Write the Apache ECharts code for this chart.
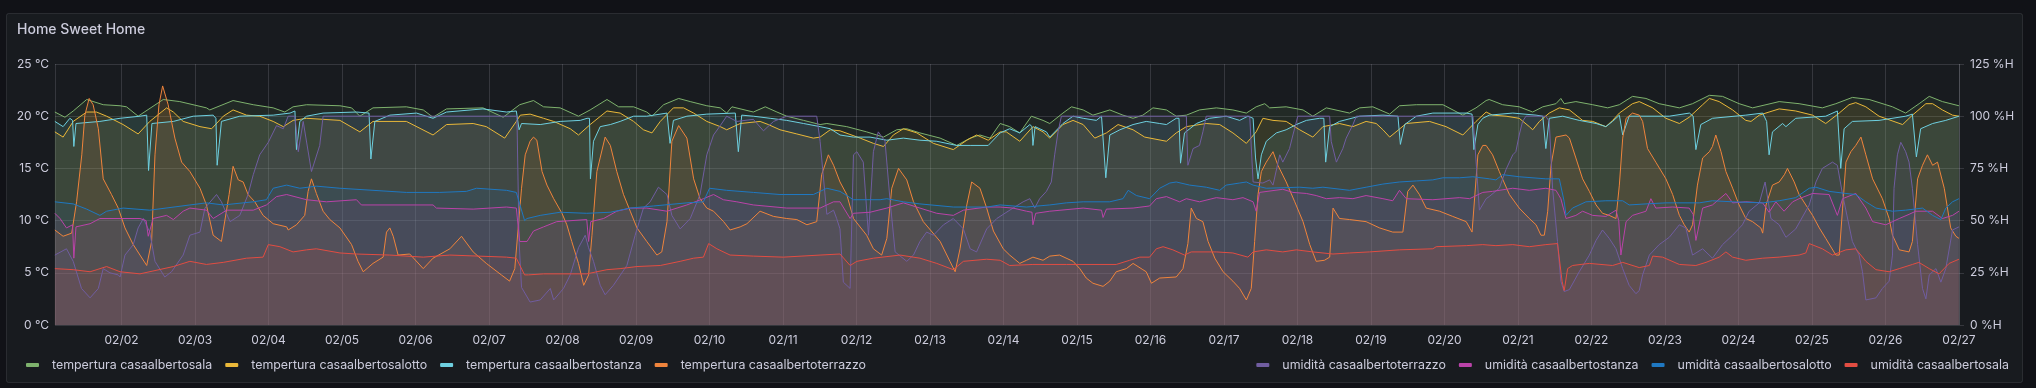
<!DOCTYPE html>
<html><head><meta charset="utf-8">
<script src="https://cdn.jsdelivr.net/npm/echarts@6/dist/echarts.min.js"></script>
<style>html,body{margin:0;padding:0;background:#111217;}#c{width:2036px;height:388px;}</style>
</head><body><div id="c"></div>
<script>
// time values are hours since 02/01 00:00
const title = 'Home Sweet Home';
const tempNames = ['tempertura casaalbertosala','tempertura casaalbertosalotto','tempertura casaalbertostanza','tempertura casaalbertoterrazzo'];
const humNames = ['umidità casaalbertoterrazzo','umidità casaalbertostanza','umidità casaalbertosalotto','umidità casaalbertosala'];
const tempTicks = [0,5,10,15,20,25];
const humTicks = [0,25,50,75,100,125];
const startHour = 2.25, endHour = 624;

const tSala = [[2.2,20.4],[5.5,19.9],[8.2,20.5],[12.6,21.6],[18.0,21.1],[23.5,21.0],[25.6,20.9],[29.4,20.0],[37.6,21.6],[43.0,21.4],[51.7,20.8],[52.8,20.6],[60.4,21.5],[67.0,21.1],[73.5,20.8],[77.3,20.4],[80.0,20.9],[84.4,21.1],[95.3,21.0],[99.1,20.8],[101.8,20.0],[106.1,20.8],[117.0,20.9],[122.5,20.6],[125.7,19.9],[130.1,20.7],[142.0,20.8],[148.6,19.9],[154.0,21.1],[158.5,21.5],[161.8,20.9],[167.2,20.8],[173.2,20.0],[177.0,20.6],[182.5,21.6],[186.3,20.9],[191.2,20.9],[195.5,20.4],[197.2,20.0],[201.0,21.1],[205.9,21.7],[209.7,21.4],[215.1,21.0],[219.5,20.8],[221.6,20.3],[223.3,20.9],[230.3,20.4],[234.2,20.9],[238.0,20.4],[241.2,20.0],[246.7,19.6],[252.1,19.2],[254.3,19.3],[260.8,19.0],[267.3,18.5],[272.8,18.0],[277.1,18.7],[280.4,18.8],[284.7,18.4],[291.3,17.9],[296.7,17.2],[301.1,17.9],[304.3,18.2],[307.6,17.9],[310.9,19.3],[314.0,19.0],[317.3,18.4],[321.1,20.0],[324.9,19.6],[327.1,19.3],[331.4,20.3],[334.2,20.9],[338.0,20.6],[341.2,20.1],[346.7,20.6],[351.0,20.1],[354.3,19.8],[357.5,20.1],[360.8,20.8],[365.2,20.6],[368.4,20.0],[371.7,20.1],[376.0,20.6],[381.5,20.8],[386.9,20.6],[391.3,20.3],[394.5,20.9],[397.3,21.2],[398.9,20.8],[404.3,20.9],[409.8,20.6],[413.0,20.0],[417.4,20.8],[425.0,20.3],[428.3,20.8],[432.6,20.9],[438.1,20.2],[441.3,21.0],[446.8,21.1],[455.5,21.1],[462.0,20.1],[466.3,20.8],[469.6,21.5],[470.6,21.6],[475.0,21.1],[480.4,20.9],[484.8,20.4],[488.1,20.9],[492.4,21.2],[494.0,21.7],[495.1,21.2],[498.9,21.4],[504.4,21.1],[509.3,20.8],[513.1,21.1],[517.4,21.9],[521.8,21.7],[526.1,21.2],[532.7,20.8],[537.0,21.2],[542.5,22.0],[546.8,21.9],[552.2,21.2],[556.6,20.8],[561.0,21.1],[565.3,21.4],[571.8,21.2],[579.4,20.8],[583.8,21.2],[589.2,21.8],[594.7,21.6],[602.3,20.9],[606.6,20.3],[611.0,21.2],[614.3,21.9],[618.6,21.4],[624,21.0]];

const tSalotto = [[2.2,18.5],[4.9,18.0],[8.2,19.5],[12.6,20.4],[15.8,20.4],[19.1,20.0],[24.5,19.2],[29.4,18.3],[33.2,19.5],[38.7,20.8],[40.9,20.4],[44.1,19.5],[49.6,19.0],[53.4,18.8],[57.2,20.0],[60.4,20.6],[64.8,20.1],[69.1,20.0],[73.5,19.5],[76.8,19.0],[80.0,19.6],[84.4,19.8],[95.3,19.6],[101.8,18.5],[106.1,19.5],[117.0,19.5],[125.7,18.2],[130.1,19.2],[138.8,19.3],[143.1,19.0],[149.1,17.9],[152.9,19.5],[154.2,20.1],[157.4,20.2],[161.8,19.8],[165.1,19.5],[170.5,18.8],[173.2,18.2],[177.0,19.2],[182.5,20.5],[186.8,20.3],[191.2,19.5],[194.4,18.7],[197.2,18.4],[199.9,19.5],[204.2,20.8],[207.5,20.8],[210.8,20.3],[215.1,19.5],[219.5,19.0],[221.6,18.7],[226.0,19.3],[232.5,19.5],[235.2,19.2],[239.0,18.7],[244.5,18.3],[249.9,17.9],[252.1,18.0],[255.4,18.7],[258.6,18.6],[265.2,17.9],[269.5,17.4],[272.8,17.1],[276.0,18.2],[279.3,18.8],[283.7,18.4],[289.1,17.4],[295.6,16.8],[300.0,17.7],[303.2,18.2],[307.0,17.7],[310.9,18.5],[312.9,18.5],[317.3,17.6],[321.6,19.0],[324.9,18.5],[327.1,17.9],[331.4,19.2],[334.7,19.6],[338.0,19.2],[341.8,17.9],[345.6,18.4],[349.4,19.2],[354.3,18.7],[358.1,18.0],[365.2,17.6],[368.4,18.4],[371.7,19.0],[378.2,19.3],[382.6,19.2],[386.9,18.4],[391.3,17.4],[394.5,18.5],[396.7,19.8],[400.0,19.6],[404.3,19.5],[408.7,18.7],[413.0,18.0],[416.3,19.0],[421.7,19.3],[426.1,19.0],[430.4,19.5],[433.7,19.3],[435.9,18.7],[438.1,18.0],[443.5,19.3],[451.1,19.5],[456.5,19.0],[462.0,18.2],[466.3,19.5],[469.6,20.4],[471.7,20.1],[476.1,20.0],[480.4,19.8],[483.7,19.0],[484.8,18.7],[487.0,19.5],[490.2,20.3],[493.5,20.8],[496.8,20.6],[501.1,19.6],[504.4,19.5],[508.7,19.0],[510.9,19.6],[513.1,20.3],[517.4,21.2],[519.6,21.4],[524.0,20.8],[528.3,19.8],[532.7,19.3],[535.9,19.9],[540.3,21.1],[542.5,21.7],[545.7,21.4],[550.1,20.6],[554.4,19.6],[556.1,19.5],[558.8,20.1],[562.0,20.4],[565.3,20.7],[570.7,20.5],[576.2,20.1],[580.5,19.3],[584.9,20.3],[588.1,21.1],[590.3,21.3],[593.6,20.9],[597.9,20.0],[605.6,19.2],[608.8,20.1],[613.2,21.2],[615.4,21.2],[618.6,20.6],[621.9,20.1],[624,20.0]];

const tStanza = [[2.2,19.5],[4.9,19.0],[7.1,19.8],[8.0,19.6],[8.4,17.1],[9.1,19.3],[16.9,19.5],[23.5,19.8],[30.0,20.0],[32.2,20.1],[32.8,14.8],[33.9,19.3],[40.9,19.5],[47.4,20.0],[53.9,20.1],[54.8,19.8],[55.2,15.3],[56.6,19.5],[62.6,20.0],[73.5,20.1],[79.0,20.3],[80.6,20.5],[81.1,16.8],[82.2,19.5],[84.4,20.0],[89.8,20.3],[100.7,20.4],[104.8,20.3],[105.4,15.9],[106.7,19.5],[111.6,20.1],[120.3,20.3],[125.7,19.8],[130.1,20.4],[142.0,20.7],[149.7,20.4],[152.9,20.5],[153.8,18.7],[154.6,19.3],[160.7,19.2],[167.2,19.5],[173.8,19.6],[176.0,19.8],[176.8,19.8],[177.1,14.0],[178.1,17.6],[180.3,19.0],[183.6,19.2],[186.8,19.5],[191.2,20.0],[195.5,20.0],[202.1,20.3],[203.1,17.4],[204.2,19.6],[208.6,20.0],[215.1,20.2],[224.4,20.3],[225.4,16.6],[226.5,20.1],[230.3,20.0],[235.8,19.8],[241.2,19.6],[246.7,19.3],[252.1,19.0],[255.4,18.8],[258.6,18.2],[263.0,18.0],[268.4,18.0],[273.9,17.7],[279.3,17.9],[284.7,17.7],[290.2,17.6],[296.7,17.2],[301.1,17.2],[307.0,17.2],[310.9,18.4],[314.0,18.8],[317.3,18.4],[320.6,19.2],[321.3,19.0],[321.6,17.2],[322.3,19.0],[326.0,18.5],[327.1,18.0],[331.4,19.3],[334.7,20.0],[338.0,19.8],[342.3,19.6],[344.0,20.0],[345.4,14.1],[346.7,18.2],[350.0,18.7],[354.3,19.2],[358.6,19.5],[363.0,19.3],[365.2,19.2],[368.4,19.8],[369.3,19.8],[369.8,15.5],[371.1,18.4],[375.0,19.3],[379.3,19.8],[384.7,20.0],[389.1,19.6],[391.8,20.0],[393.5,19.8],[394.3,16.0],[395.1,14.0],[396.2,16.3],[397.8,17.6],[401.1,18.4],[404.3,18.7],[407.6,19.2],[410.9,19.6],[415.2,19.8],[416.6,19.8],[417.2,15.6],[418.5,19.0],[421.7,19.5],[428.3,20.0],[435.9,20.1],[440.8,20.0],[441.6,17.3],[443.0,19.2],[446.8,20.0],[452.2,20.3],[463.1,20.3],[465.0,20.2],[465.6,16.8],[466.9,19.2],[468.5,19.8],[470.6,20.1],[478.3,20.3],[485.9,20.1],[488.1,20.0],[489.1,16.9],[490.2,19.8],[494.6,20.0],[500.0,19.6],[505.5,19.3],[508.7,19.0],[510.9,19.5],[513.1,20.1],[514.2,18.2],[516.3,20.0],[529.4,20.0],[536.0,20.3],[537.2,20.0],[538.1,16.8],[539.7,19.2],[543.5,19.8],[554.4,20.1],[559.9,20.3],[561.2,19.5],[562.0,16.3],[563.1,18.5],[566.4,19.3],[567.5,19.0],[570.7,19.8],[580.5,20.0],[584.3,20.5],[585.4,15.0],[586.5,18.8],[589.2,19.5],[597.9,19.6],[606.6,20.0],[608.8,20.2],[610.1,16.1],[611.5,18.8],[615.4,19.3],[619.7,19.6],[624,20.0]];

const tTerrazzo = [[2.2,9.1],[4.9,8.5],[7.7,8.8],[9.3,11.8],[11.0,16.3],[12.0,20.1],[13.4,21.7],[14.7,21.1],[16.4,18.8],[18.0,14.0],[20.7,12.5],[22.9,11.2],[25.1,9.3],[27.8,7.7],[30.0,6.7],[32.2,5.7],[33.8,8.0],[34.9,16.3],[36.2,21.1],[37.4,22.9],[39.2,21.1],[41.4,17.9],[43.6,15.6],[46.3,14.7],[49.6,13.1],[51.7,11.5],[53.9,8.6],[56.6,8.0],[59.1,12.5],[60.4,15.2],[62.1,13.9],[63.7,13.7],[65.3,12.5],[67.5,11.8],[70.2,10.5],[73.5,9.7],[77.9,9.4],[78.4,9.1],[81.1,9.6],[83.8,10.5],[84.9,12.8],[86.0,14.0],[87.6,12.6],[89.8,10.9],[92.0,10.1],[95.3,9.3],[99.1,7.7],[101.2,6.1],[102.9,5.1],[106.1,5.9],[109.4,6.5],[110.5,8.9],[111.6,9.3],[112.7,8.5],[114.3,6.7],[118.1,6.8],[122.5,5.4],[125.7,6.4],[131.2,7.3],[135.0,8.5],[138.8,7.0],[143.1,5.9],[148.0,4.8],[150.7,4.2],[152.4,5.4],[154.6,13.1],[155.8,16.3],[157.4,17.6],[158.5,18.0],[159.6,17.7],[161.3,14.7],[162.9,13.4],[165.1,12.1],[167.8,10.7],[169.4,9.6],[171.0,8.0],[173.2,5.9],[174.9,3.8],[176.5,4.8],[177.6,8.6],[179.2,14.7],[181.9,18.0],[183.6,17.2],[185.7,14.7],[187.9,12.5],[190.1,10.9],[192.3,9.3],[195.5,8.0],[198.8,6.7],[200.4,7.0],[202.1,9.9],[203.7,17.6],[205.9,19.1],[208.6,17.9],[210.8,14.0],[212.9,12.1],[215.1,11.2],[217.3,10.9],[220.6,9.9],[222.7,9.1],[226.0,9.4],[228.2,9.7],[232.5,10.9],[236.9,10.4],[241.2,10.2],[244.5,10.1],[247.8,9.6],[251.0,9.9],[252.6,14.4],[254.8,16.3],[256.5,15.3],[258.6,13.7],[260.8,12.5],[263.0,10.2],[267.3,8.6],[269.5,7.3],[272.2,6.7],[273.9,8.3],[275.5,13.1],[277.7,15.0],[280.4,13.9],[282.6,11.8],[285.8,9.9],[291.3,8.0],[294.5,6.1],[296.2,5.1],[297.8,7.3],[300.0,11.5],[301.6,13.7],[304.3,13.1],[306.5,11.2],[308.7,9.0],[311.9,7.3],[314.0,6.7],[317.3,5.9],[319.5,6.2],[321.6,6.5],[324.9,6.2],[327.1,6.6],[330.3,6.7],[334.7,6.1],[336.9,5.4],[339.0,4.5],[341.2,4.0],[344.5,3.7],[346.7,4.2],[348.8,5.1],[352.1,5.4],[354.3,5.9],[357.5,5.3],[358.6,5.1],[360.3,4.0],[363.0,4.5],[368.4,4.6],[370.6,5.4],[372.2,7.8],[373.3,11.2],[375.0,10.2],[377.1,9.9],[378.8,8.0],[381.0,6.4],[383.7,5.1],[386.9,4.2],[389.1,3.5],[391.3,2.4],[392.9,3.5],[394.0,8.0],[395.1,12.5],[396.2,14.7],[397.8,15.6],[400.0,16.6],[401.6,15.3],[404.3,13.7],[407.1,11.8],[409.8,9.9],[412.0,7.7],[414.1,6.1],[416.8,6.2],[418.5,6.5],[419.6,11.2],[421.7,10.2],[425.0,10.1],[430.4,9.9],[434.8,9.3],[439.1,8.9],[442.4,8.9],[444.0,12.8],[445.7,13.4],[447.8,12.5],[450.0,11.2],[454.4,10.9],[458.7,10.4],[463.1,9.9],[465.0,8.9],[466.9,16.3],[468.5,17.2],[469.6,17.2],[471.7,16.3],[473.9,14.7],[477.2,12.5],[480.4,11.2],[483.7,10.2],[485.9,9.6],[487.5,8.6],[488.6,8.6],[489.7,10.9],[490.8,15.3],[492.4,18.0],[495.7,18.2],[496.8,17.9],[498.9,16.0],[501.1,14.0],[503.3,12.8],[505.5,11.5],[507.6,10.7],[509.8,10.5],[512.0,10.2],[513.1,13.4],[514.2,17.9],[515.3,19.8],[517.4,20.3],[519.6,20.1],[520.7,19.5],[522.3,16.9],[525.0,15.6],[528.3,14.0],[530.5,12.5],[532.7,10.5],[534.3,9.6],[535.9,8.9],[537.0,9.6],[538.6,13.4],[540.3,16.0],[542.5,16.6],[543.5,17.1],[544.6,18.2],[546.3,16.6],[547.9,14.7],[550.1,13.1],[552.2,11.5],[554.4,10.2],[556.6,9.9],[559.3,9.3],[559.9,8.8],[561.0,11.5],[563.1,13.4],[565.3,13.7],[567.0,14.4],[568.0,15.0],[570.2,13.7],[571.8,12.5],[574.0,11.5],[576.2,10.5],[578.4,9.3],[580.5,8.3],[583.8,6.7],[584.9,6.7],[586.0,11.2],[587.1,15.6],[588.7,16.6],[590.3,17.2],[592.0,18.0],[593.6,16.3],[595.8,14.0],[599.0,12.1],[601.2,10.2],[602.3,8.6],[604.5,7.2],[607.7,7.0],[608.8,8.0],[610.5,14.0],[612.1,15.3],[613.7,16.3],[615.4,15.3],[617.0,15.6],[619.2,13.1],[621.3,9.3],[623.0,8.5],[624,8.3]];

const hTerrazzo = [[2.2,33.5],[6.0,36.5],[8.2,30.5],[10.9,17.5],[13.7,13],[16.4,17.5],[18.0,27],[20.2,25],[22.9,24],[23.5,23],[25.1,33.5],[27.8,38.5],[29.4,46.5],[31.1,51],[33.2,44.5],[34.9,30.5],[38.1,23],[40.3,25.5],[44.1,33.5],[46.3,43],[49.6,44.5],[51.2,56],[55.0,62.5],[56.6,59],[59.4,49.5],[62.6,52.5],[65.3,62.5],[67.0,72],[69.1,81.5],[71.9,87.5],[74.6,95.5],[76.8,94],[78.4,100],[80.6,100],[81.7,83],[83.3,97.5],[86.0,73.5],[88.7,86],[89.8,100],[153.1,100],[153.8,40],[154.6,18],[157.4,11],[160.7,12],[164.0,17.5],[165.1,12],[168.3,17.5],[170.5,24],[173.2,37],[175.4,43],[176.5,37],[178.1,30.5],[180.3,19],[181.9,14.5],[184.6,19],[189.0,28.5],[191.7,43],[194.4,56],[196.6,59],[199.3,66],[202.1,62.5],[203.7,52.5],[206.4,46],[209.7,51],[212.9,62.5],[215.1,81.5],[217.3,91],[219.5,95.5],[221.6,100],[224.9,97.5],[230.3,98.5],[233.6,93],[236.9,97.5],[241.2,100],[251.0,100],[252.1,88],[254.3,53],[256.5,55],[257.5,51],[258.6,46],[259.7,20.5],[261.9,17.5],[263.0,81.5],[264.1,83],[266.2,78],[267.9,43],[269.5,83],[271.1,92.5],[273.3,88],[274.9,60.5],[276.6,35],[280.4,30.5],[282.6,33.5],[284.7,40],[286.9,44.5],[289.1,43],[292.4,48],[295.6,51],[298.9,46],[301.1,36.5],[303.2,35],[306.5,46],[309.8,51],[315.1,56],[318.4,59],[320.6,60.5],[322.2,56],[323.8,60.5],[326.0,64],[327.6,68.5],[328.7,81.5],[329.8,92.5],[330.9,100],[371.7,100],[372.2,76.5],[373.9,84.5],[376.0,86],[377.1,92.5],[378.2,100],[392.4,100],[393.5,68.5],[396.7,68],[398.9,69.5],[400.0,67],[402.2,81.5],[403.2,78],[405.4,84.5],[406.5,91],[408.1,100],[418.5,100],[419.0,88],[420.7,78],[422.8,84.5],[423.9,89.5],[426.1,96],[427.2,100],[465.3,100],[467.4,55],[469.6,60.5],[470.6,61.5],[473.9,65.5],[476.1,74.5],[478.3,81.5],[479.3,83],[480.4,91],[481.5,97.5],[482.6,100],[489.1,100],[490.2,97.5],[491.3,65.5],[492.9,40],[494.0,21],[495.1,16],[496.8,17],[500.0,25.5],[503.3,33.5],[505.5,40.5],[507.6,45.5],[509.8,41.5],[512.0,36.5],[514.2,27],[516.3,19],[518.5,15],[519.6,16.5],[520.7,24],[522.9,33.5],[526.1,38.5],[529.4,42],[532.7,48],[534.8,46.5],[537.0,33.5],[540.3,36.5],[543.5,32],[546.8,38.5],[550.1,43],[553.3,48],[555.5,54.5],[558.8,58.5],[560.7,68.5],[562.6,51],[565.3,48],[567.5,42],[570.7,46],[575.1,57.5],[577.3,68.5],[579.4,75],[582.7,78],[584.3,76.5],[586.0,62.5],[589.2,40],[591.4,33.5],[592.5,25.5],[593.6,12],[596.9,13],[599.0,17.5],[601.2,21],[602.3,33.5],[602.8,65.5],[603.9,81.5],[605.0,87.5],[606.6,83],[607.7,78],[608.8,65.5],[610.5,38.5],[612.1,17.5],[613.2,12.5],[614.3,24],[616.5,27],[618.1,20.5],[619.7,27],[621.9,45.5],[624,47]];

const hStanza = [[2.2,53.5],[3.9,51],[6.0,46.5],[8.0,48],[8.4,32],[9.1,47],[13.7,48.5],[16.9,51],[30.0,51],[32.0,50],[32.7,42.5],[34.3,51],[38.7,52.5],[40.9,50.5],[44.1,54.5],[46.3,56],[51.7,55],[53.9,51],[58.3,55],[67.0,55],[71.3,57.5],[74.6,61.5],[77.9,62.5],[84.4,60],[90.9,59],[100.7,60],[102.3,57.5],[125.7,57.5],[126.8,56],[138.8,55.5],[149.7,56.5],[152.9,56],[154.0,40],[156.4,40],[158.5,45],[161.8,47],[166.1,49.5],[175.9,50.5],[176.5,40],[177.2,49.5],[181.4,51],[185.7,54.5],[190.1,56],[195.5,56],[202.1,54.5],[208.6,57.5],[214.0,60.5],[217.3,62.5],[220.5,60],[224.9,59],[230.3,57.5],[241.2,56],[252.1,56],[256.5,59],[258.6,59],[261.9,51],[263.0,53.5],[268.4,54],[273.9,56],[279.3,58.5],[284.7,56],[290.2,53.5],[295.6,52.5],[298.9,55],[306.5,56.5],[310.9,56.5],[315.1,56],[319.5,54.5],[321.3,54],[321.6,48],[322.5,53.5],[327.1,54.5],[338.0,56],[344.0,55],[344.5,51.5],[345.6,55.5],[354.3,56],[359.7,57],[361.9,60.5],[365.2,61.5],[369.5,59],[371.7,60.5],[376.0,59],[381.5,61],[386.9,60],[390.2,61],[393.5,59],[394.5,54.5],[395.6,63.5],[403.2,65],[406.5,63.5],[410.9,63],[414.1,62],[417.4,60.5],[421.7,61],[426.1,60.5],[430.4,62],[435.9,60.5],[439.1,59.5],[441.3,64.5],[443.5,60.5],[452.2,60],[460.9,61],[464.2,60.5],[468.5,63.5],[471.7,64],[478.3,65.5],[483.7,64.5],[489.1,65.5],[492.4,64.5],[494.0,60.5],[495.7,51],[498.9,52.5],[501.1,54.5],[504.4,52.5],[508.7,52],[512.0,55],[512.9,50],[513.6,33.5],[515.3,49.5],[517.4,52.5],[521.8,54.5],[523.4,60.5],[525.0,56],[530.5,56.5],[535.9,56],[537.2,53],[538.1,40.5],[540.3,56],[543.5,57.5],[547.9,63],[550.1,58.5],[554.4,59],[559.9,58.5],[562.0,54],[564.2,59],[566.9,54.5],[569.7,59],[571.8,60.5],[576.2,63],[581.6,62.5],[584.3,52.5],[586.0,60.5],[590.3,63],[593.6,56],[595.8,49.5],[600.1,48],[602.3,49.5],[604.5,51],[607.7,53],[609.9,54.5],[615.4,54.5],[618.6,51],[621.9,52.5],[624,54.5]];

const hSalotto = [[2.2,59],[8.2,58],[12.6,55.5],[16.9,52.5],[19.1,54.5],[24.5,56],[33.2,55],[46.3,57.5],[51.7,58.5],[57.2,57.5],[67.0,59],[71.3,60],[73.5,65.5],[77.9,67],[82.2,65.5],[87.6,66.5],[95.3,65.5],[106.1,64.5],[117.0,63.5],[127.9,63.5],[136.6,64],[139.9,65.5],[149.7,64.5],[152.9,63.5],[155.6,50],[156.4,51],[160.7,52.5],[167.2,54],[175.9,53.5],[183.6,54],[190.1,56],[197.7,57],[208.6,58.5],[214.0,59],[216.0,65.5],[221.6,64.5],[230.3,63.5],[239.0,62.5],[249.9,62.5],[254.3,65.5],[258.6,64],[263.0,60],[271.7,60],[273.9,60.5],[279.3,59],[284.7,58],[295.6,56.5],[306.5,56.5],[310.9,57.5],[319.5,56.5],[327.1,57.5],[332.5,58.5],[338.0,59],[346.7,59],[351.0,60.5],[352.7,64.5],[355.4,62],[359.7,60.5],[363.0,65.5],[366.3,68],[368.4,68.5],[372.8,67],[378.2,66],[382.6,64.5],[384.7,67],[389.1,68],[391.3,68.5],[393.5,67],[397.8,65.5],[408.7,66],[413.0,65.5],[416.3,66],[425.0,64.5],[430.4,66],[435.9,67.5],[441.3,68.5],[446.8,69],[452.2,69.5],[455.5,70.5],[460.9,70.5],[465.3,71],[470.7,70],[472.8,69.5],[475.0,72],[480.4,71],[489.1,70],[493.5,70],[495.1,59],[495.7,52.5],[497.8,56],[502.2,59],[508.7,59.5],[514.2,59.5],[516.3,57.5],[521.8,58],[528.3,58.5],[539.2,58.5],[543.5,59.5],[550.1,59],[559.9,58.5],[565.3,59.5],[570.7,61],[575.1,65.5],[577.3,66],[581.6,64],[587.1,63],[590.3,62.5],[593.6,59],[596.9,56],[602.3,54.5],[606.6,55],[612.1,56],[615.4,52.5],[618.1,50.5],[619.7,56],[621.9,59],[624,60.5]];

const hSala = [[2.2,27],[8.2,26.5],[13.7,25.5],[19.1,28],[23.5,25.5],[30.0,24.5],[40.9,28],[46.3,30.5],[51.7,29],[57.2,30],[64.8,32],[70.2,32.5],[71.9,38.5],[75.7,37.5],[80.0,35],[84.4,36],[87.6,36.5],[95.3,34.5],[100.7,34],[111.6,33.5],[122.5,32.5],[131.2,33.5],[149.7,32.5],[152.9,32],[155.6,24],[156.9,24],[161.8,24.5],[175.9,24.5],[182.5,26.5],[186.8,27],[192.3,28],[199.9,28.5],[206.4,30.5],[210.8,32],[214.0,32.5],[215.7,39],[218.4,36.5],[222.7,33.5],[230.3,33],[240.1,32.5],[252.1,33.5],[258.6,34],[261.9,28.5],[264.1,30.5],[269.5,32],[278.2,33.5],[284.7,32],[290.2,29.5],[295.6,26.5],[298.9,30.5],[306.5,31.5],[310.9,31],[314.0,28.5],[321.6,29],[332.5,29],[348.8,29],[353.2,31],[356.5,32.5],[359.7,32.5],[361.9,36.5],[364.1,37.5],[367.3,36],[371.1,33.5],[373.3,35],[381.5,35],[386.9,34.5],[391.8,32.5],[393.5,35],[397.8,36],[403.2,35],[407.6,36],[413.0,35],[419.6,34],[425.0,34.5],[431.5,35],[441.3,36],[452.2,36.5],[453.3,37.5],[463.1,38],[468.5,38.5],[472.8,38],[478.3,38.5],[483.7,37.5],[489.1,38.5],[492.9,39],[494.4,21],[495.1,16.5],[496.2,27],[497.8,28.5],[503.3,29.5],[510.9,28.5],[514.2,30],[519.6,27.5],[522.9,28.5],[524.0,33],[527.2,32.5],[532.7,29],[538.1,28.5],[541.4,30],[545.7,32.5],[547.9,35],[550.1,32.5],[554.4,31],[559.9,32],[565.3,32.5],[571.8,33.5],[574.0,34.5],[575.1,39],[579.4,36.5],[582.7,33.5],[587.1,36],[590.3,36.5],[593.6,30.5],[596.9,26.5],[601.2,25.5],[604.5,27],[608.8,29],[610.9,30],[614.3,27],[617.5,24.5],[620.8,29.5],[624,31.5]];

const tempSeries = [tSala, tSalotto, tStanza, tTerrazzo];
const humSeries = [hTerrazzo, hStanza, hSalotto, hSala];
const tempColors = ['#7EB26D','#EAB839','#6ED0E0','#EF843C'];
const humColors = ['#705DA0','#BA43A9','#1F78C1','#E24D42'];

const H = 3600000;
const T0 = new Date(2023, 1, 1, 0, 0, 0).getTime();
const FONT = 'Inter, "Noto Sans", sans-serif';
const TXT = '#ccccdc';
const GRIDC = 'rgba(204,204,220,0.16)';

function mk(name, arr, color, axis) {
  return {
    name: name, type: 'line', yAxisIndex: axis,
    data: arr.map(p => [T0 + p[0] * H, p[1]]),
    showSymbol: false, symbol: 'none', animation: false,
    lineStyle: { width: 1, color: color },
    itemStyle: { color: color },
    areaStyle: { color: color, opacity: 0.1 },
    emphasis: { disabled: true }
  };
}
const series = [];
tempNames.forEach((n, i) => series.push(mk(n, tempSeries[i], tempColors[i], 0)));
humNames.forEach((n, i) => series.push(mk(n, humSeries[i], humColors[i], 1)));

const chart = echarts.init(document.getElementById('c'), null, { renderer: 'canvas' });
const legendCommon = {
  top: 359, orient: 'horizontal', icon: 'roundRect', itemWidth: 13, itemHeight: 4,
  itemGap: 13, selectedMode: false, padding: 0,
  textStyle: { color: TXT, fontSize: 12.4, fontFamily: FONT, padding: [0, 0, 0, 8] }
};
chart.setOption({
  backgroundColor: '#111217',
  graphic: [{
    type: 'rect', z: -10, silent: true,
    shape: { x: 6.5, y: 13.5, width: 2016, height: 369, r: 2 },
    style: { fill: '#181b1f', stroke: 'rgba(204,204,220,0.12)', lineWidth: 1 }
  }],
  title: { text: title, left: 17, top: 23, padding: 0,
    textStyle: { color: TXT, fontSize: 14, fontWeight: 500, fontFamily: FONT } },
  grid: { left: 55, right: 77, top: 64, bottom: 63, containLabel: false },
  legend: [
    Object.assign({ left: 26, data: tempNames }, legendCommon),
    Object.assign({ right: 27, data: humNames }, legendCommon)
  ],
  xAxis: {
    type: 'time', min: T0 + startHour * H, max: T0 + endHour * H + 60000,
    minInterval: 24 * H, maxInterval: 24 * H, splitNumber: 26,
    axisLine: { show: false }, axisTick: { show: false },
    splitLine: { show: true, lineStyle: { color: GRIDC, width: 1 } },
    axisLabel: {
      color: TXT, fontSize: 12, fontFamily: FONT, margin: 9, hideOverlap: false,
      showMaxLabel: true, showMinLabel: false,
      formatter: function (v) {
        const d = new Date(v);
        const mm = String(d.getMonth() + 1).padStart(2, '0');
        const dd = String(d.getDate()).padStart(2, '0');
        return mm + '/' + dd;
      }
    }
  },
  yAxis: [
    { type: 'value', position: 'left', min: tempTicks[0], max: tempTicks[tempTicks.length - 1], interval: tempTicks[1] - tempTicks[0],
      axisLine: { show: false }, axisTick: { show: false },
      splitLine: { show: true, lineStyle: { color: GRIDC, width: 1 } },
      axisLabel: { formatter: '{value} °C', color: TXT, fontSize: 12, fontFamily: FONT, margin: 6 } },
    { type: 'value', position: 'right', min: humTicks[0], max: humTicks[humTicks.length - 1], interval: humTicks[1] - humTicks[0],
      axisLine: { show: false },
      axisTick: { show: true, length: 5, lineStyle: { color: GRIDC } },
      splitLine: { show: false },
      axisLabel: { formatter: '{value} %H', color: TXT, fontSize: 12, fontFamily: FONT, margin: 11 } }
  ],
  series: series
});
</script></body></html>
